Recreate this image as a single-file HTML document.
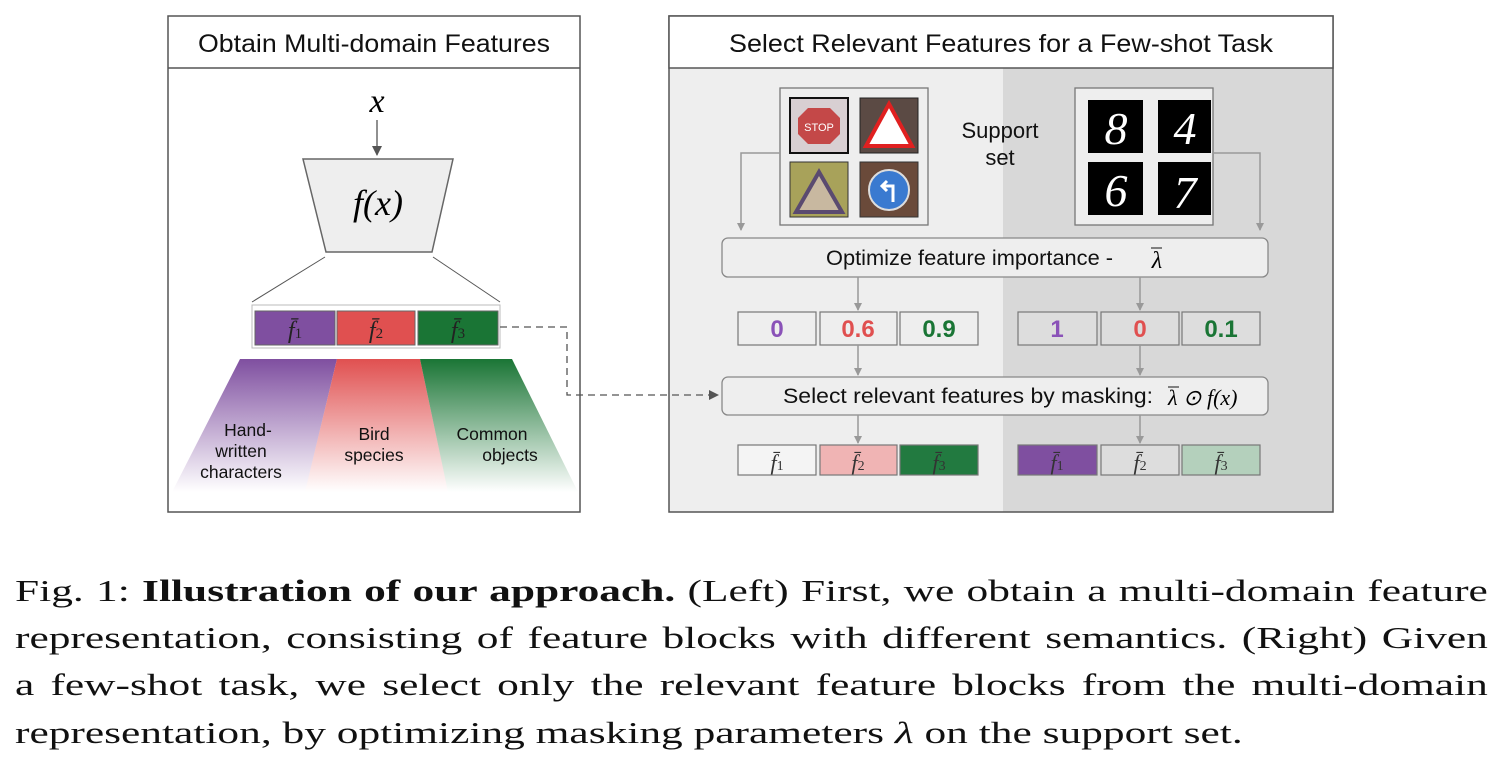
<!DOCTYPE html>
<html><head><meta charset="utf-8"><style>
html,body{margin:0;padding:0;background:#fff;width:1501px;height:759px;overflow:hidden}
svg{position:absolute;left:0;top:0}
.cap{position:absolute;left:15px;width:1052px;font-family:"Liberation Serif",serif;font-size:31px;color:#111;text-align:justify;text-align-last:justify;white-space:nowrap;line-height:34px;transform:scaleX(1.4);transform-origin:0 0}
.cap.last{text-align-last:left}
</style></head><body>
<svg width="1501" height="560" viewBox="0 0 1501 560" xmlns="http://www.w3.org/2000/svg" font-family="Liberation Sans, sans-serif">
<defs>
<linearGradient id="gp" x1="0" y1="0" x2="0" y2="1"><stop offset="0" stop-color="#7f4fa0"/><stop offset="1" stop-color="#7f4fa0" stop-opacity="0"/></linearGradient>
<linearGradient id="gr" x1="0" y1="0" x2="0" y2="1"><stop offset="0" stop-color="#e05050"/><stop offset="1" stop-color="#e05050" stop-opacity="0"/></linearGradient>
<linearGradient id="gg" x1="0" y1="0" x2="0" y2="1"><stop offset="0" stop-color="#1a7535"/><stop offset="1" stop-color="#1a7535" stop-opacity="0"/></linearGradient>
<marker id="ar" markerWidth="8" markerHeight="8" refX="7" refY="4" orient="auto" markerUnits="userSpaceOnUse"><path d="M0,0 L8,4 L0,8 z" fill="#999"/></marker>
<marker id="ad" markerWidth="10" markerHeight="10" refX="9" refY="5" orient="auto" markerUnits="userSpaceOnUse"><path d="M0,0 L10,5 L0,10 z" fill="#555"/></marker>
</defs>
<!-- Left panel -->
<rect x="168" y="16" width="412" height="496" fill="#fff" stroke="#555" stroke-width="1.5"/>
<line x1="168" y1="68" x2="580" y2="68" stroke="#555" stroke-width="1.5"/>
<text x="198" y="52" font-size="25" textLength="352" lengthAdjust="spacingAndGlyphs" fill="#111">Obtain Multi-domain Features</text>
<text x="377" y="112" font-size="34" font-style="italic" font-family="Liberation Serif, serif" text-anchor="middle">x</text>
<line x1="377" y1="120" x2="377" y2="155" stroke="#555" stroke-width="1.3" marker-end="url(#ad)"/>
<polygon points="303,159 453,159 432,252 326,252" fill="#eee" stroke="#666" stroke-width="1.5"/>
<text x="378" y="215" font-size="36" font-style="italic" font-family="Liberation Serif, serif" text-anchor="middle">f(x)</text>
<line x1="325" y1="257" x2="252" y2="302" stroke="#555" stroke-width="1"/>
<line x1="433" y1="257" x2="500" y2="302" stroke="#555" stroke-width="1"/>
<rect x="252" y="305" width="248" height="43" fill="#fff" stroke="#bbb" stroke-width="1"/>
<rect x="255" y="311" width="80" height="34" fill="#7f4fa0" stroke="#666"/>
<rect x="337" y="311" width="78" height="34" fill="#e05050" stroke="#666"/>
<rect x="418" y="311" width="80" height="34" fill="#1a7535" stroke="#666"/>
<g font-family="Liberation Serif, serif" font-style="italic" font-size="24" fill="#222" text-anchor="middle">
<text x="295" y="338">f̄<tspan font-size="15" font-style="normal">1</tspan></text>
<text x="376" y="338">f̄<tspan font-size="15" font-style="normal">2</tspan></text>
<text x="458" y="338">f̄<tspan font-size="15" font-style="normal">3</tspan></text>
</g>
<polygon points="240,359 337,359 305,492 172,492" fill="url(#gp)"/>
<polygon points="337,359 420,359 448,492 305,492" fill="url(#gr)"/>
<polygon points="420,359 512,359 578,492 448,492" fill="url(#gg)"/>
<g font-size="17.5" fill="#111" text-anchor="middle">
<text x="248" y="436">Hand-</text><text x="241" y="457">written</text><text x="241" y="478">characters</text>
<text x="374" y="440">Bird</text><text x="374" y="461">species</text>
<text x="492" y="440">Common</text><text x="510" y="461">objects</text>
</g>
<!-- Right panel -->
<rect x="669" y="68" width="334" height="444" fill="#eeeeee"/>
<rect x="1003" y="68" width="330" height="444" fill="#d8d8d8"/>
<rect x="669" y="16" width="664" height="496" fill="none" stroke="#555" stroke-width="1.5"/>
<rect x="669" y="16" width="664" height="52" fill="#fff" stroke="#555" stroke-width="1.5"/>
<text x="729" y="52" font-size="25" textLength="544" lengthAdjust="spacingAndGlyphs" fill="#111">Select Relevant Features for a Few-shot Task</text>
<path d="M500,327 H567 V395 H718" fill="none" stroke="#555" stroke-width="1.3" stroke-dasharray="7,5" marker-end="url(#ad)"/>
<rect x="780" y="88" width="148" height="137" fill="#eee" stroke="#777" stroke-width="1.3"/>
<rect x="790" y="98" width="58" height="55" fill="#d8cfd2" stroke="#111" stroke-width="2"/>
<polygon points="808,108 830,108 840,118 840,134 830,144 808,144 798,134 798,118" fill="#c44848"/>
<text x="819" y="131" font-size="11" fill="#fff" text-anchor="middle">STOP</text>
<rect x="860" y="98" width="58" height="55" fill="#5b4a44" stroke="#222"/>
<polygon points="889,104 912,146 866,146" fill="#fff" stroke="#e02020" stroke-width="4"/>
<rect x="790" y="162" width="58" height="55" fill="#a8a25a" stroke="#333"/>
<polygon points="819,172 842,212 796,212" fill="#c8b8a0" stroke="#5a4a70" stroke-width="4"/>
<rect x="860" y="162" width="58" height="55" fill="#6a4a3a" stroke="#333"/>
<circle cx="889" cy="190" r="20" fill="#3a7ad0" stroke="#ddd" stroke-width="2"/>
<path d="M893,202 V186 H883 M887,181 L882,186 L887,191" fill="none" stroke="#fff" stroke-width="3"/>
<text x="1000" y="138" font-size="22" fill="#111" text-anchor="middle">Support</text>
<text x="1000" y="165" font-size="22" fill="#111" text-anchor="middle">set</text>
<rect x="1075" y="88" width="138" height="137" fill="#eee" stroke="#777" stroke-width="1.3"/>
<rect x="1088" y="100" width="55" height="53" fill="#000"/>
<rect x="1158" y="100" width="53" height="53" fill="#000"/>
<rect x="1088" y="162" width="55" height="53" fill="#000"/>
<rect x="1158" y="162" width="53" height="53" fill="#000"/>
<g font-family="Liberation Serif, serif" font-style="italic" font-size="46" fill="#fff" text-anchor="middle">
<text x="1116" y="144">8</text><text x="1185" y="144">4</text><text x="1116" y="206">6</text><text x="1185" y="208">7</text>
</g>
<path d="M780,153 H741 V230" fill="none" stroke="#999" stroke-width="1.5" marker-end="url(#ar)"/>
<path d="M1213,153 H1260 V230" fill="none" stroke="#999" stroke-width="1.5" marker-end="url(#ar)"/>
<rect x="722" y="238" width="546" height="39" rx="6" fill="#eee" stroke="#888" stroke-width="1.3"/>
<text x="826" y="265" font-size="21" textLength="287" lengthAdjust="spacingAndGlyphs" fill="#111">Optimize feature importance  -</text>
<text x="1157" y="268" font-size="24" font-family="Liberation Serif, serif" font-style="italic" text-anchor="middle">λ</text>
<line x1="1151" y1="248" x2="1162" y2="248" stroke="#111" stroke-width="1"/>
<line x1="858" y1="277" x2="858" y2="310" stroke="#999" stroke-width="1.5" marker-end="url(#ar)"/>
<line x1="1140" y1="277" x2="1140" y2="310" stroke="#999" stroke-width="1.5" marker-end="url(#ar)"/>
<g stroke="#777" stroke-width="1.2">
<rect x="738" y="312" width="78" height="33" fill="#eee"/><rect x="820" y="312" width="77" height="33" fill="#eee"/><rect x="900" y="312" width="78" height="33" fill="#eee"/>
<rect x="1018" y="312" width="79" height="33" fill="#ddd"/><rect x="1101" y="312" width="78" height="33" fill="#ddd"/><rect x="1182" y="312" width="78" height="33" fill="#ddd"/>
</g>
<g font-size="24" font-weight="bold" text-anchor="middle">
<text x="777" y="337" fill="#8a52b8">0</text><text x="858" y="337" fill="#e05050">0.6</text><text x="939" y="337" fill="#1a7535">0.9</text>
<text x="1057" y="337" fill="#8a52b8">1</text><text x="1140" y="337" fill="#e05050">0</text><text x="1221" y="337" fill="#1a7535">0.1</text>
</g>
<line x1="858" y1="345" x2="858" y2="375" stroke="#999" stroke-width="1.5" marker-end="url(#ar)"/>
<line x1="1140" y1="345" x2="1140" y2="375" stroke="#999" stroke-width="1.5" marker-end="url(#ar)"/>
<rect x="722" y="377" width="546" height="38" rx="6" fill="#eee" stroke="#888" stroke-width="1.3"/>
<text x="783" y="403" font-size="21" textLength="370" lengthAdjust="spacingAndGlyphs" fill="#111">Select relevant features by masking:</text>
<text x="1168" y="405" font-size="22" font-family="Liberation Serif, serif" font-style="italic">λ ⊙ f(x)</text>
<line x1="1168" y1="387" x2="1179" y2="387" stroke="#111" stroke-width="1"/>
<line x1="858" y1="415" x2="858" y2="443" stroke="#999" stroke-width="1.5" marker-end="url(#ar)"/>
<line x1="1140" y1="415" x2="1140" y2="443" stroke="#999" stroke-width="1.5" marker-end="url(#ar)"/>
<g stroke="#777" stroke-width="1.2">
<rect x="738" y="445" width="78" height="30" fill="#f4f4f4"/><rect x="820" y="445" width="77" height="30" fill="#f0b4b4"/><rect x="900" y="445" width="78" height="30" fill="#227a40"/>
<rect x="1018" y="445" width="79" height="30" fill="#7f4fa0"/><rect x="1101" y="445" width="78" height="30" fill="#ddd"/><rect x="1182" y="445" width="78" height="30" fill="#b4d0bc"/>
</g>
<g font-family="Liberation Serif, serif" font-style="italic" font-size="22" fill="#333" text-anchor="middle">
<text x="777" y="470">f̄<tspan font-size="14" font-style="normal">1</tspan></text>
<text x="858" y="470">f̄<tspan font-size="14" font-style="normal">2</tspan></text>
<text x="939" y="470">f̄<tspan font-size="14" font-style="normal">3</tspan></text>
<text x="1057" y="470">f̄<tspan font-size="14" font-style="normal">1</tspan></text>
<text x="1140" y="470">f̄<tspan font-size="14" font-style="normal">2</tspan></text>
<text x="1221" y="470">f̄<tspan font-size="14" font-style="normal">3</tspan></text>
</g>
</svg>
<div class="cap" style="top:574px">Fig. 1: <b>Illustration of our approach.</b> (Left) First, we obtain a multi-domain feature</div>
<div class="cap" style="top:621px">representation, consisting of feature blocks with different semantics. (Right) Given</div>
<div class="cap" style="top:668px">a few-shot task, we select only the relevant feature blocks from the multi-domain</div>
<div class="cap last" style="top:716px">representation, by optimizing masking parameters <i>λ</i> on the support set.</div>
</body></html>
